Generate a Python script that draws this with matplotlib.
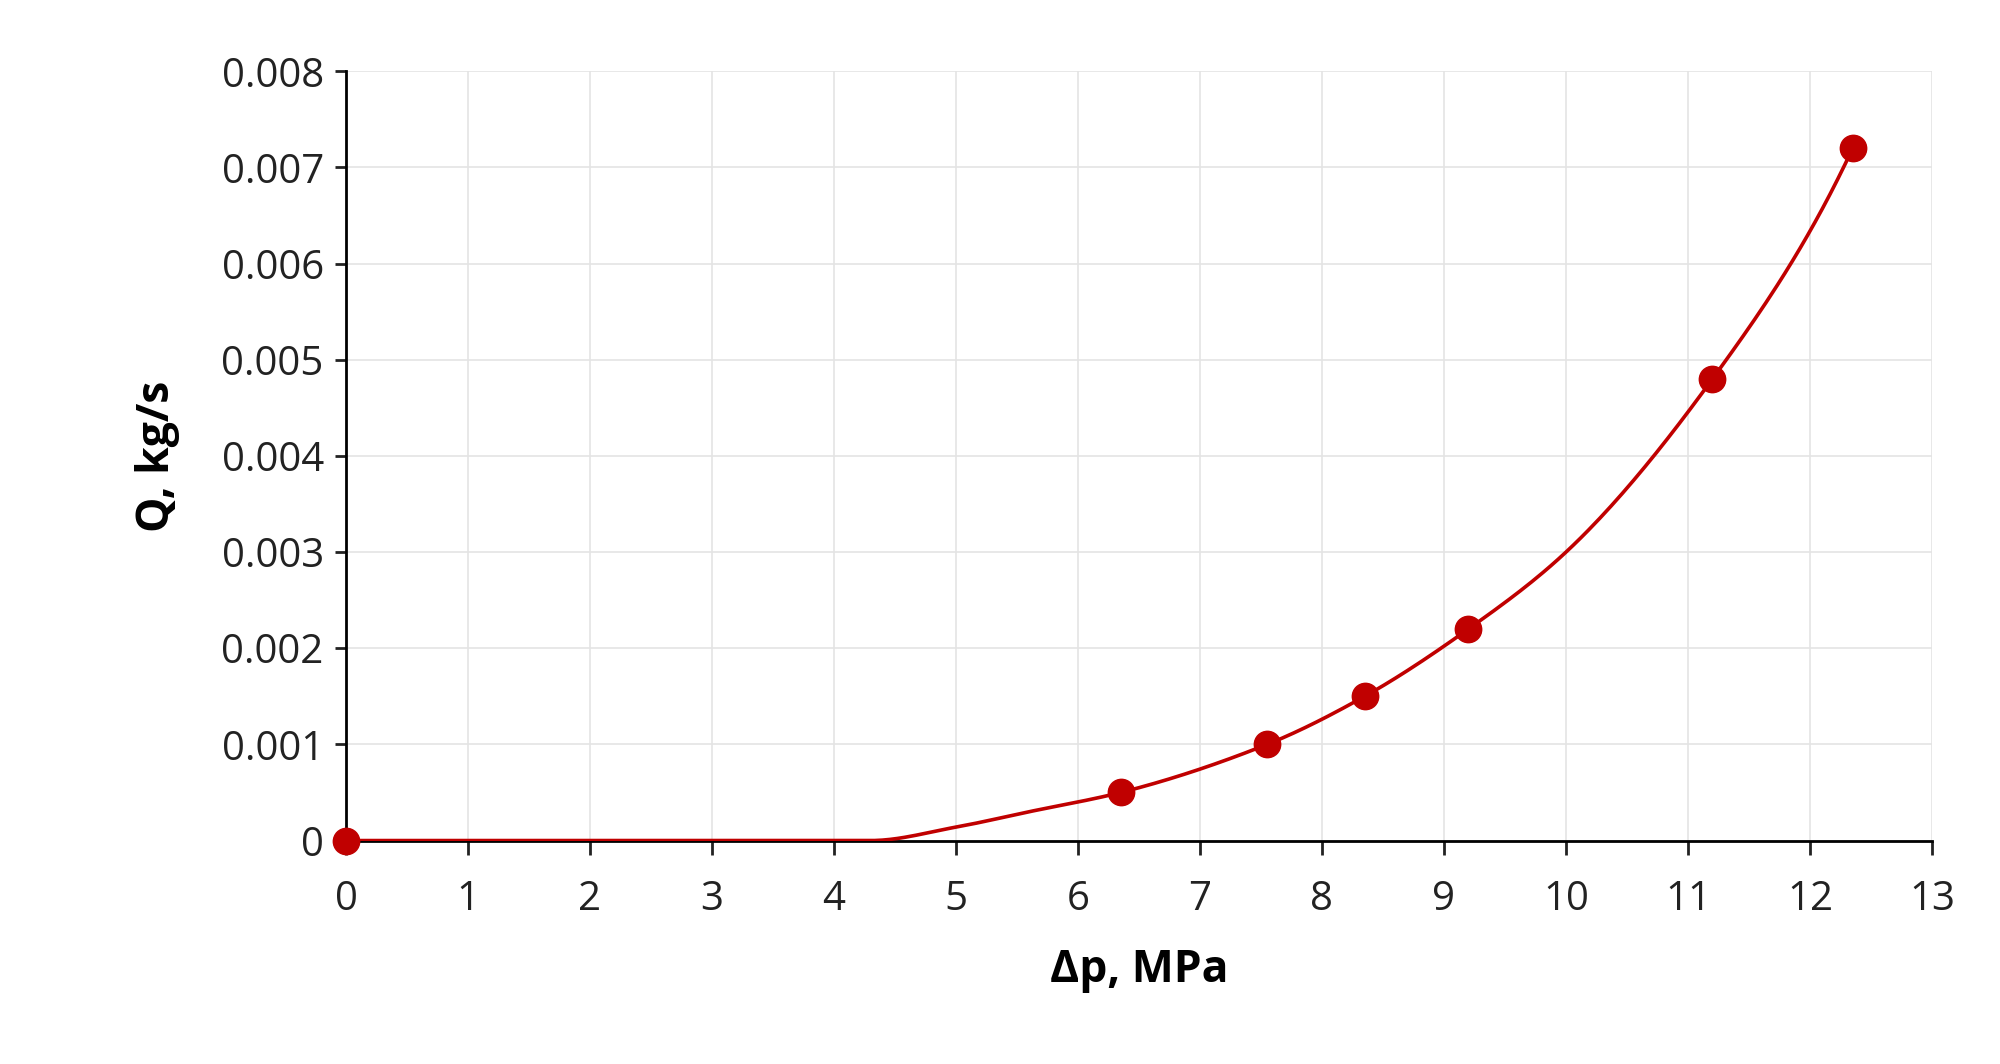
import matplotlib.pyplot as plt
import numpy as np

plt.rcParams['font.family'] = ['Open Sans', 'DejaVu Sans']

# measured points
dp = [0, 6.35, 7.55, 8.35, 9.2, 11.2, 12.35]
q = [0, 0.0005, 0.001, 0.0015, 0.0022, 0.0048, 0.0072]

# trend curve
curve_x = [0, 4.3, 5.0, 5.6, 6.35, 7.55, 8.35, 9.2, 10.0, 11.2, 12.35]
curve_y = [0, 0, 0.00014, 0.0003, 0.0005, 0.001, 0.0015, 0.0022, 0.003, 0.0048, 0.0072]


def pchip(x, y, xs):
    x = np.asarray(x, float); y = np.asarray(y, float)
    h = np.diff(x); d = np.diff(y) / h
    m = np.zeros_like(y)
    for k in range(1, len(x) - 1):
        if d[k - 1] * d[k] > 0:
            w1 = 2 * h[k] + h[k - 1]; w2 = h[k] + 2 * h[k - 1]
            m[k] = (w1 + w2) / (w1 / d[k - 1] + w2 / d[k])
    m[-1] = d[-1] * 1.3
    idx = np.clip(np.searchsorted(x, xs) - 1, 0, len(h) - 1)
    t = (xs - x[idx]) / h[idx]
    h00 = 2 * t**3 - 3 * t**2 + 1; h10 = t**3 - 2 * t**2 + t
    h01 = -2 * t**3 + 3 * t**2; h11 = t**3 - t**2
    return h00 * y[idx] + h10 * h[idx] * m[idx] + h01 * y[idx + 1] + h11 * h[idx] * m[idx + 1]


xs = np.linspace(0, 12.35, 400)
ys = pchip(curve_x, curve_y, xs)

red = '#C00000'
fig = plt.figure(figsize=(20, 10.64), dpi=100)
ax = fig.add_axes([0.173, 0.21, 0.793, 0.723])
ax.plot(xs, ys, color=red, lw=2.6, zorder=3)
ax.plot(dp, q, 'o', color=red, ms=19, zorder=4, clip_on=False)

ax.set_xlim(0, 13)
ax.set_ylim(0, 0.008)
ax.set_xticks(range(0, 14))
ax.set_yticks(np.arange(0, 0.0081, 0.001))
ax.set_yticklabels(['0', '0.001', '0.002', '0.003', '0.004', '0.005', '0.006', '0.007', '0.008'])
ax.grid(True, color='#e4e4e4', lw=1.2)
ax.set_axisbelow(True)
for s in ['top', 'right']:
    ax.spines[s].set_visible(False)
ax.spines['left'].set_linewidth(2)
ax.spines['bottom'].set_linewidth(2)
ax.tick_params(axis='both', labelsize=29, colors='#222222', width=2, length=10, direction='out')
ax.tick_params(axis='x', pad=18)
ax.tick_params(axis='y', length=8, pad=8)
ax.set_xlabel('Δp, MPa', fontsize=32, fontweight='bold', labelpad=20)
ax.set_ylabel('Q, kg/s', fontsize=32, fontweight='bold', labelpad=30)

plt.savefig('out.png', dpi=100)
